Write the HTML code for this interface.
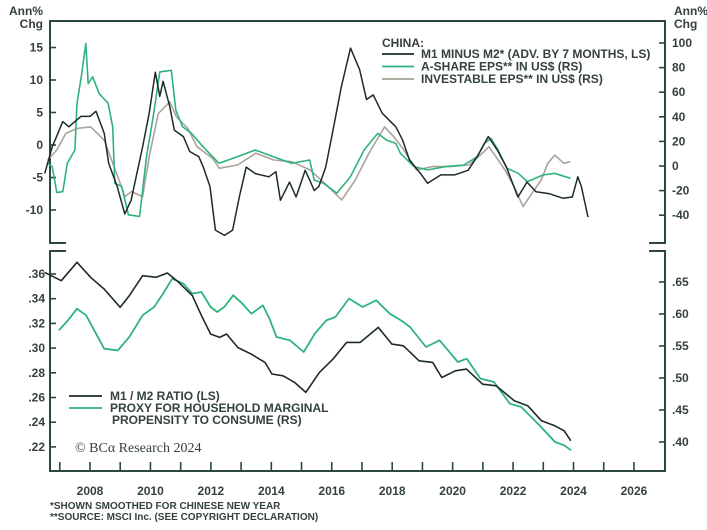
<!DOCTYPE html>
<html><head><meta charset="utf-8">
<style>
body{margin:0;background:#fff;}
svg{display:block;font-family:"Liberation Sans",sans-serif;font-weight:bold;}
</style></head>
<body>
<svg id="c" width="707" height="530" viewBox="0 0 707 530"></svg>
<script>
// ---- data ----
const m1m2Years=[2006.5,2006.75,2007.1,2007.3,2007.7,2008,2008.2,2008.47,2008.62,2008.9,2009.15,2009.36,2009.74,2009.96,2010.16,2010.31,2010.42,2010.64,2010.79,2011.09,2011.3,2011.6,2011.75,2011.97,2012.15,2012.45,2012.72,2012.94,2013.17,2013.47,2013.92,2014.15,2014.3,2014.6,2014.82,2015.12,2015.27,2015.42,2015.57,2015.8,2016.02,2016.32,2016.62,2016.92,2017.15,2017.37,2017.67,2018.12,2018.34,2018.57,2018.94,2019.17,2019.61,2020.06,2020.51,2020.81,2021.18,2021.48,2021.78,2022.16,2022.46,2022.76,2023.21,2023.66,2023.96,2024.14,2024.26,2024.48];
const m1m2Vals=[-4.4,-0.3,3.6,2.8,4.4,4.4,5.2,1.8,-2.8,-6.4,-10.6,-8.5,-0.3,4.9,11.2,7.5,9.8,5.9,2.3,1.3,-1.0,-1.8,-3.4,-6.4,-13.1,-13.9,-13.1,-8,-3.4,-4.4,-4.9,-4.1,-8.5,-5.7,-8,-3.9,-5.4,-7,-6.4,-3.4,1.8,9,14.9,11.6,7,7.7,4.9,2.8,0.8,-2.3,-4.4,-5.9,-4.6,-4.6,-3.9,-1.8,1.3,-0.8,-3.4,-8,-5.7,-7.2,-7.5,-8.2,-8,-4.9,-6.4,-11.1];
const aYears=[2006.6,2006.75,2006.9,2007.1,2007.25,2007.5,2007.57,2007.72,2007.86,2007.94,2008.09,2008.3,2008.6,2008.75,2008.82,2009.05,2009.27,2009.64,2009.87,2010.09,2010.31,2010.69,2010.84,2011.06,2011.36,2011.74,2012.27,2012.87,2013.47,2014.07,2014.67,2015.27,2015.42,2015.72,2016.17,2016.62,2017.07,2017.52,2017.82,2018.12,2018.27,2018.72,2019.17,2019.77,2020.37,2020.82,2021.05,2021.27,2021.5,2021.8,2022.17,2022.47,2022.99,2023.37,2023.9];
const aVals=[2,-0.5,-21.6,-20.8,2.2,13,50.8,73.8,99.5,67,72.4,59,51,31.9,-14,-16.7,-39.7,-41,7.6,40,76.5,77.8,45.4,32,26.5,15.7,2.2,7.6,13,7.6,2.2,4.9,-11.4,-14,-22,-8.6,13,26.5,21,18.4,10.3,-0.5,-3.2,-0.5,0.8,7.6,18.4,22.4,13,-1.9,-5.9,-12.7,-7.3,-5.9,-10];
const iYears=[2006.6,2006.9,2007.2,2007.57,2008.02,2008.47,2008.92,2009.15,2009.37,2009.74,2009.96,2010.26,2010.64,2010.86,2011.24,2011.54,2012.06,2012.28,2012.88,2013.48,2014.08,2014.68,2015.28,2015.88,2016.33,2016.78,2017.23,2017.75,2018.05,2018.35,2018.8,2019.33,2019.93,2020.53,2020.98,2021.2,2021.43,2021.73,2022.03,2022.33,2022.63,2022.93,2023.15,2023.38,2023.68,2023.9];
const iVals=[4.9,13,26.5,30.5,31.9,21,-8.6,-24.9,-20.8,-24.9,7.6,42.7,52.2,40,30.5,15.7,6.2,-1.9,0.8,10.3,4.9,3.5,-3.2,-16.7,-27.6,-11.4,10.3,31.9,23.8,14.3,-3.2,-0.5,-0.5,0.8,10.3,15.7,7.6,-3.2,-16.7,-33,-22,-11.4,2.2,8.9,2.2,3.5];
const r1Years=[2006.49,2007.05,2007.57,2008.02,2008.47,2009,2009.3,2009.74,2010.19,2010.56,2010.94,2011.39,2011.69,2011.99,2012.29,2012.52,2012.89,2013.34,2013.79,2014.02,2014.39,2014.77,2015.14,2015.59,2016.04,2016.49,2016.94,2017.54,2017.99,2018.37,2018.89,2019.34,2019.64,2020.09,2020.46,2020.99,2021.44,2022.04,2022.49,2022.94,2023.39,2023.69,2023.91];
const r1Vals=[.3614,.3546,.3695,.3573,.3478,.333,.3424,.3586,.3573,.3608,.3532,.3424,.3262,.3114,.3087,.3114,.3005,.2951,.2884,.279,.2776,.2722,.2641,.2803,.2911,.3046,.3046,.3168,.3032,.3019,.2897,.2884,.2762,.2816,.283,.2708,.2695,.2573,.2532,.2411,.237,.2330,.2249];
const pYears=[2006.97,2007.27,2007.57,2007.87,2008.47,2008.92,2009.3,2009.74,2010.12,2010.42,2010.72,2011.09,2011.39,2011.69,2011.99,2012.21,2012.44,2012.74,2013.04,2013.34,2013.72,2013.94,2014.17,2014.62,2015.07,2015.44,2015.82,2016.12,2016.57,2017.02,2017.47,2017.92,2018.29,2018.59,2019.12,2019.57,2020.17,2020.47,2020.92,2021.37,2021.89,2022.27,2022.87,2023.39,2023.69,2023.92];
const pVals=[.5745,.59,.6083,.5979,.5458,.5432,.5641,.598,.611,.6318,.6552,.6474,.6318,.6344,.611,.6031,.611,.6292,.6162,.6005,.6135,.5927,.564,.5588,.5406,.5693,.59,.5953,.624,.611,.6214,.6005,.59,.5797,.5484,.5589,.525,.5302,.499,.4938,.46,.4547,.4261,.40,.3948,.387];
const leftTopTicks=[15,10,5,0,-5,-10];
const rightTopTicks=[100,80,60,40,20,0,-20,-40];
const leftBotTicks=[.36,.34,.32,.30,.28,.26,.24,.22];
const rightBotTicks=[.65,.60,.55,.50,.45,.40];
const yearLabels=[2008,2010,2012,2014,2016,2018,2020,2022,2024,2026];

// ---- scales ----
const X0=50,X1=665;
const xs=y=>90+(y-2008)*30.22;
const yTL=v=>145-v*6.5;
const yTR=v=>166-v*1.23;
const yBL=v=>274+(0.36-v)*1235;
const yBR=v=>282+(0.65-v)*640;
const svg=document.getElementById('c');
const NS='http://www.w3.org/2000/svg';
const AX='#2c4744', TX='#33413f';
function mk(t,a){const e=document.createElementNS(NS,t);for(const k in a)e.setAttribute(k,a[k]);svg.appendChild(e);return e;}
function txt(x,y,s,anchor,size){const e=mk('text',{x:x,y:y,'text-anchor':anchor||'start','font-size':size||12,fill:TX});e.textContent=s;return e;}
function line(x1,y1,x2,y2,w){return mk('line',{x1:x1,y1:y1,x2:x2,y2:y2,stroke:AX,'stroke-width':w||2});}

let e;
e=line(X0,21,X1,21);
line(X0,20,X0,244);line(X1,20,X1,244);
line(X0,243,X0+16,243);line(X1-16,243,X1,243);
line(X0,251,X0+16,251);line(X1-16,251,X1,251);
line(X0,250,X0,472);line(X1,250,X1,472);
e=line(X0,471,X1,471);
for(let y=2007;y<=2026;y++){line(xs(y),471,xs(y),462,1.6);}
yearLabels.forEach(y=>{const t=txt(xs(y),495,String(y),'middle',12);

});

leftTopTicks.forEach(v=>{line(X0,yTL(v),X0+6,yTL(v),1.6);const t=txt(43,yTL(v)+4,String(v),'end');

});
rightTopTicks.forEach(v=>{line(X1-6,yTR(v),X1,yTR(v),1.6);const t=txt(672,yTR(v)+4,String(v),'start');

});
leftBotTicks.forEach(v=>{line(X0,yBL(v),X0+6,yBL(v),1.6);const t=txt(45,yBL(v)+4,v.toFixed(2).slice(1),'end');

});
rightBotTicks.forEach(v=>{line(X1-6,yBR(v),X1,yBR(v),1.6);const t=txt(672,yBR(v)+4,v.toFixed(2).slice(1),'start');

});

e=txt(43,15,'Ann%','end');
txt(43,28,'Chg','end');
e=txt(674,15,'Ann%','start');
txt(674,28,'Chg','start');

function series(xsArr,vs,fy,color,w,name){
  const d=xsArr.map((x,i)=>(i?'L':'M')+xs(x).toFixed(1)+','+fy(vs[i]).toFixed(1)).join('');
  const p=mk('path',{d:d,fill:'none',stroke:color,'stroke-width':w,'stroke-linejoin':'round'});
  
  
}
const GREEN='#2fb37c',DARK='#1d2b2a',TAN='#aaa39a';
series(iYears,iVals,yTR,TAN,1.6,'investable-eps-line');
series(aYears,aVals,yTR,GREEN,1.6,'a-share-eps-line');
series(m1m2Years,m1m2Vals,yTL,DARK,1.5,'m1-minus-m2-line');
series(pYears,pVals,yBR,GREEN,1.8,'proxy-mpc-line');
series(r1Years,r1Vals,yBL,DARK,1.6,'m1-m2-ratio-line');

e=txt(382,47,'CHINA:','start',12);
[[DARK,'M1 MINUS M2* (ADV. BY 7 MONTHS, LS)'],[GREEN,'A-SHARE EPS** IN US$ (RS)'],[TAN,'INVESTABLE EPS** IN US$ (RS)']].forEach((r,i)=>{
  const y=54+i*12.5;line(382,y,414,y,1.8).setAttribute('stroke',r[0]);
  const t=txt(421,y+4,r[1],'start',12);
  
  
});
[[DARK,'M1 / M2 RATIO (LS)'],[GREEN,'PROXY FOR HOUSEHOLD MARGINAL']].forEach((r,i)=>{
  const y=396+i*12;line(69,y,102,y,1.8).setAttribute('stroke',r[0]);
  const t=txt(110,y+4,r[1],'start',12);
  
  
});
txt(112,424,'PROPENSITY TO CONSUME (RS)','start',12);
e=mk('text',{x:75,y:452,'font-size':14,fill:TX,'font-family':'Liberation Serif, serif','font-weight':'normal'});
e.textContent='© BCα Research 2024';
e=txt(50,509,'*SHOWN SMOOTHED FOR CHINESE NEW YEAR','start',10);
e=txt(50,520,'**SOURCE: MSCI Inc. (SEE COPYRIGHT DECLARATION)','start',10);
</script>
</body></html>
